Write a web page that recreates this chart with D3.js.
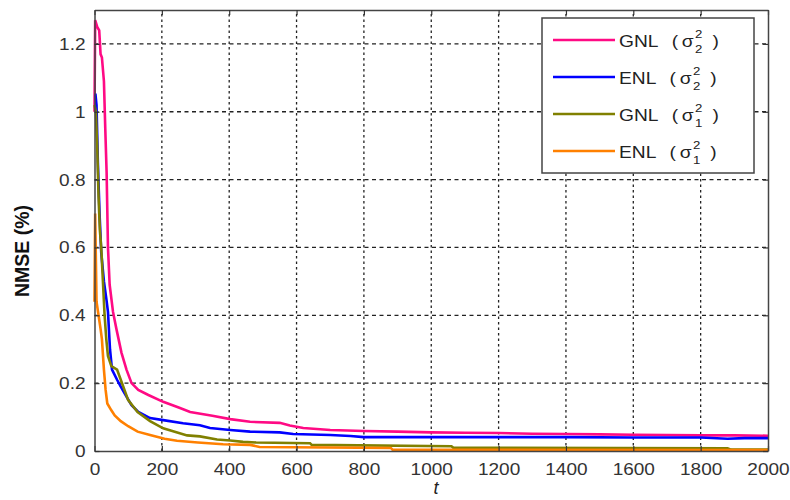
<!DOCTYPE html>
<html>
<head>
<meta charset="utf-8">
<script src="https://cdn.jsdelivr.net/npm/d3@7"></script>
<style>
  body { margin: 0; background: #fff; }
  svg { display: block; font-family: Arial, "Liberation Sans", sans-serif; }
</style>
</head>
<body>
<div id="chart"></div>
<script>
// NMSE convergence curves

var xTicks = [0, 200, 400, 600, 800, 1000, 1200, 1400, 1600, 1800, 2000];
var yTicks = [0, 0.2, 0.4, 0.6, 0.8, 1, 1.2];
var yTickLabels = ["0", "0.2", "0.4", "0.6", "0.8", "1", "1.2"];

// GNL (sigma_2^2)
var gnl2T = [0, 2, 8, 14, 18, 22, 28, 32, 36, 40, 45, 55, 65, 80, 95, 110, 130, 160, 204, 250, 284, 350, 403, 462, 550, 580, 620, 700, 800, 900, 1000, 1100, 1200, 1300, 1400, 1500, 1600, 1700, 1800, 1900, 2000];
var gnl2V = [1.0, 1.27, 1.25, 1.24, 1.17, 1.16, 1.09, 0.95, 0.82, 0.60, 0.49, 0.41, 0.36, 0.29, 0.24, 0.20, 0.18, 0.165, 0.145, 0.128, 0.115, 0.104, 0.094, 0.086, 0.083, 0.075, 0.068, 0.062, 0.059, 0.057, 0.055, 0.054, 0.053, 0.051, 0.050, 0.049, 0.048, 0.047, 0.046, 0.046, 0.045];

// ENL (sigma_2^2)
var enl2T = [0, 3, 6, 10, 15, 20, 28, 35, 40, 46, 52, 67, 78, 95, 110, 130, 165, 204, 263, 313, 343, 403, 462, 550, 590, 700, 760, 800, 1000, 1200, 1400, 1600, 1800, 1880, 1930, 2000];
var enl2V = [1.05, 1.05, 1.02, 0.85, 0.70, 0.585, 0.50, 0.45, 0.41, 0.30, 0.24, 0.21, 0.19, 0.16, 0.135, 0.115, 0.097, 0.091, 0.082, 0.076, 0.068, 0.062, 0.057, 0.055, 0.050, 0.047, 0.044, 0.041, 0.041, 0.041, 0.041, 0.040, 0.040, 0.036, 0.038, 0.038];

// GNL (sigma_1^2)
var gnl1T = [0, 4, 8, 12, 16, 20, 25, 30, 35, 40, 50, 67, 78, 100, 128, 165, 204, 275, 313, 364, 403, 441, 480, 640, 645, 1060, 1065, 1880, 1890, 2000];
var gnl1V = [1.02, 1.0, 0.90, 0.75, 0.65, 0.60, 0.50, 0.40, 0.33, 0.28, 0.25, 0.24, 0.21, 0.15, 0.115, 0.088, 0.067, 0.046, 0.043, 0.034, 0.031, 0.027, 0.025, 0.023, 0.018, 0.014, 0.010, 0.008, 0.004, 0.004];

// ENL (sigma_1^2)
var enl1T = [0, 2, 6, 12, 18, 22, 28, 33, 38, 50, 60, 78, 100, 128, 165, 208, 245, 307, 382, 462, 490, 880, 885, 2000];
var enl1V = [0.44, 0.70, 0.44, 0.40, 0.36, 0.33, 0.24, 0.18, 0.14, 0.12, 0.105, 0.088, 0.073, 0.057, 0.047, 0.036, 0.030, 0.025, 0.020, 0.018, 0.012, 0.009, 0.004, 0.003];

var seriesNames = ["GNL", "ENL", "GNL", "ENL"];
var seriesSub = ["2", "2", "1", "1"];
var seriesColors = ["#ff0a84", "#0000ff", "#808000", "#ff8000"];

var W = 790, H = 500;
var margin = {top: 10, right: 22, bottom: 49, left: 94.5};
var STRETCH = 1.12; // source image is a bit wider than tall

var svg = d3.select("#chart").append("svg")
	.attr("width", W)
	.attr("height", H);

var x = d3.scaleLinear().domain([0, 2000]).range([margin.left, W - margin.right]);
var y = d3.scaleLinear().domain([0, 1.3]).range([H - margin.bottom, margin.top]);

// dashed grid
svg.append("g").selectAll("line")
	.data(xTicks.slice(1, -1))
	.enter().append("line")
	.attr("x1", function(d) { return x(d); })
	.attr("x2", function(d) { return x(d); })
	.attr("y1", y(0))
	.attr("y2", y(1.3))
	.attr("stroke", "#222")
	.attr("stroke-width", 1.3)
	.attr("stroke-dasharray", "2.5,3");

svg.append("g").selectAll("line")
	.data(yTicks.slice(1))
	.enter().append("line")
	.attr("x1", x(0))
	.attr("x2", x(2000))
	.attr("y1", function(d) { return y(d); })
	.attr("y2", function(d) { return y(d); })
	.attr("stroke", "#222")
	.attr("stroke-width", 1.3)
	.attr("stroke-dasharray", "4,3.5");

// curves
var allT = [gnl2T, enl2T, gnl1T, enl1T];
var allV = [gnl2V, enl2V, gnl1V, enl1V];

var line = d3.line()
	.x(function(d) { return x(d[0]); })
	.y(function(d) { return y(d[1]); });

for (var s = 0; s < 4; s++) {
	var pts = d3.zip(allT[s], allV[s]);
	svg.append("path")
		.datum(pts)
		.attr("fill", "none")
		.attr("stroke", seriesColors[s])
		.attr("stroke-width", 2.6)
		.attr("d", line);
}

// axes (MATLAB style: inward ticks, box)
var tickFmt = function(d, i) { return yTickLabels[i]; };

var xAxis = svg.append("g")
	.attr("transform", "translate(0," + y(0) + ")")
	.call(d3.axisBottom(x).tickValues(xTicks).tickSizeInner(-5).tickSizeOuter(0).tickPadding(9).tickFormat(d3.format("d")));
var xTop = svg.append("g")
	.attr("transform", "translate(0," + y(1.3) + ")")
	.call(d3.axisTop(x).tickValues(xTicks).tickSizeInner(-5).tickSizeOuter(0).tickFormat(""));
var yAxis = svg.append("g")
	.attr("transform", "translate(" + x(0) + ",0)")
	.call(d3.axisLeft(y).tickValues(yTicks).tickSizeInner(-5).tickSizeOuter(0).tickPadding(8).tickFormat(tickFmt));
var yRight = svg.append("g")
	.attr("transform", "translate(" + x(2000) + ",0)")
	.call(d3.axisRight(y).tickValues(yTicks).tickSizeInner(-5).tickSizeOuter(0).tickFormat(""));

[xAxis, xTop, yAxis, yRight].forEach(function(g) {
	g.select(".domain").attr("stroke", "#444").attr("stroke-width", 1.5);
	g.selectAll(".tick line").attr("stroke", "#333").attr("stroke-width", 1.2);
	g.selectAll("text")
		.attr("fill", "#333")
		.attr("transform", "scale(" + STRETCH + ",1)")
		.style("font-size", "17px")
		.style("font-family", "Arial, 'Liberation Sans', sans-serif");
});
xAxis.selectAll("text").attr("dy", "0.9em");

// legend
var legX = 542, legY = 18, legW = 212, legH = 155;
var leg = svg.append("g");
leg.append("rect")
	.attr("x", legX).attr("y", legY)
	.attr("width", legW).attr("height", legH)
	.attr("fill", "#fff")
	.attr("stroke", "#444")
	.attr("stroke-width", 1.5);

seriesNames.forEach(function(name, i) {
	var cy = 40 + i * 37;
	leg.append("line")
		.attr("x1", 553).attr("x2", 615)
		.attr("y1", cy).attr("y2", cy)
		.attr("stroke", seriesColors[i])
		.attr("stroke-width", 2.6);
	var row = leg.append("g")
		.attr("transform", "translate(619," + cy + ") scale(1.2,1)")
		.attr("fill", "#222");
	var t = row.append("text")
		.attr("x", 0).attr("y", 7)
		.style("font-size", "16px")
		.text(name);
	var tx = t.node().getComputedTextLength() + 11;
	row.append("text").attr("x", tx).attr("y", 7).style("font-size", "16px").text("(");
	row.append("text").attr("x", tx + 8.5).attr("y", 7).style("font-size", "16px").text("σ");
	row.append("text").attr("x", tx + 19.5).attr("y", -2).style("font-size", "11px").text("2");
	row.append("text").attr("x", tx + 19.5).attr("y", 13).style("font-size", "11px").text(seriesSub[i]);
	row.append("text").attr("x", tx + 34).attr("y", 7).style("font-size", "16px").text(")");
});

// axis labels
svg.append("text")
	.attr("transform", "translate(29," + 251 + ") rotate(-90)")
	.attr("text-anchor", "middle")
	.attr("fill", "#111")
	.style("font-size", "19.5px")
	.style("font-weight", "bold")
	.text("NMSE (%)");

svg.append("text")
	.attr("x", 436).attr("y", 494)
	.attr("text-anchor", "middle")
	.attr("fill", "#222")
	.style("font-size", "18px")
	.style("font-style", "italic")
	.text("t");
</script>
</body>
</html>
